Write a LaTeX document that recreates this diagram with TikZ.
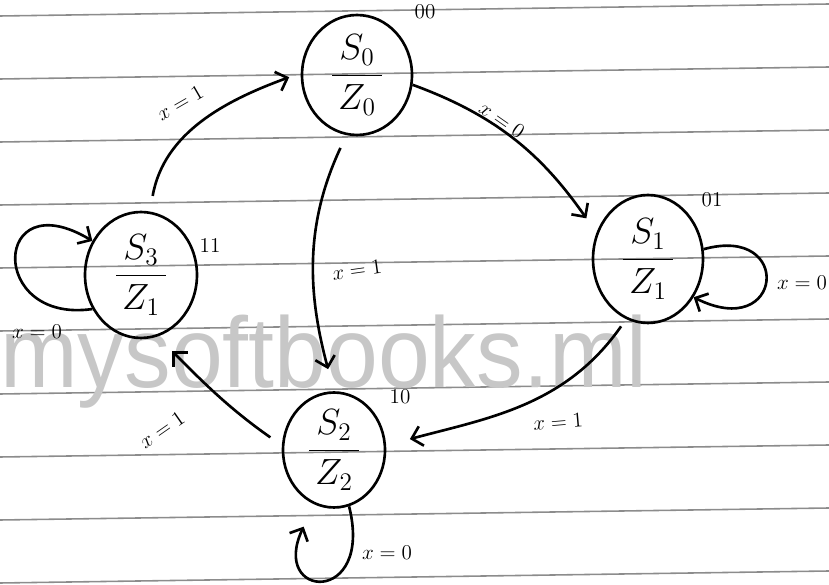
\documentclass[tikz,border=0pt]{standalone}
\usepackage{amsmath}
\usepackage{fontspec}
\newfontfamily\wmfont{Liberation Sans}
\usetikzlibrary{arrows.meta,shapes.geometric}

\begin{document}
\begin{tikzpicture}[
  x=0.02cm, y=0.02cm,
  state/.style={draw, ellipse, line width=1.5pt, inner sep=0pt, font=\huge},
  code/.style={font=\large, inner sep=0pt},
  lbl/.style={font=\large, inner sep=0pt},
  arr/.style={-{Straight Barb[length=2mm, width=4mm]}, line width=1.5pt},
  rule/.style={black!45, line width=0.9pt},
]
\useasboundingbox (0,0) rectangle (829,585);

% ruled paper
\foreach \k in {0,...,9}{ \draw[rule] (0,569-63*\k) -- (829,581-63*\k); }

\node[font=\wmfont\fontsize{57}{60}\selectfont, text=black!22, anchor=base west,
      inner sep=0pt] (wm) at (0,197) {\scalebox{0.93}[1]{mysoftbooks.ml}};

% states
\node[state, minimum width=2.2cm,  minimum height=2.4cm]  (s0) at (357,510) {$\dfrac{\,S_0\,}{\,Z_0\,}$};
\node[state, minimum width=2.2cm,  minimum height=2.56cm] (s1) at (648,326) {$\dfrac{\,S_1\,}{\,Z_1\,}$};
\node[state, minimum width=2.04cm, minimum height=2.3cm]  (s2) at (334,135) {$\dfrac{\,S_2\,}{\,Z_2\,}$};
\node[state, minimum width=2.24cm, minimum height=2.52cm] (s3) at (141,310) {$\dfrac{\,S_3\,}{\,Z_1\,}$};

\node[code] (c0) at (425,573) {00};
\node[code] (c1) at (712,385) {01};
\node[code] (c2) at (400,188) {10};
\node[code] (c3) at (210,340) {11};

% transitions
\draw[arr, shorten <=9pt, shorten >=7pt] (s3.82) to[out=80, in=200] (s0.178);
\draw[arr, shorten >=10pt] (s0.-10) to[out=-20, in=125] (s1.153);
\draw[arr, shorten <=8pt, shorten >=13pt] (s0.-100) to[out=-115, in=105] (s2.90);
\draw[arr, shorten <=5pt, shorten >=14pt] (s1.-110) to[out=-125, in=15] (s2.5);
\draw[arr, shorten <=8pt, shorten >=12pt] (s2.175) to[out=145, in=-45] (s3.-75);

% self loops
\draw[arr] (s3.215) .. controls +(-105,-15) and +(-100,60) .. (s3.145);
\draw[arr] (s1.10) .. controls +(90,25) and +(90,-45) .. (s1.-40);
\draw[arr, shorten >=14pt] (s2.-75) .. controls +(25,-100) and +(-45,-95) .. (s2.-110);

\node[lbl, rotate=30]  (e30) at (180,482) {$x=1$};
\node[lbl, rotate=-35] (e01) at (502,465) {$x=0$};
\node[lbl, rotate=8]   (e02) at (357,315) {$x=1$};
\node[lbl, rotate=5]   (e12) at (558,163) {$x=1$};
\node[lbl, rotate=35]  (e23) at (162,155) {$x=1$};
\node[lbl] (e33) at (37,253)  {$x=0$};
\node[lbl] (e11) at (802,302) {$x=0$};
\node[lbl] (e22) at (387,32)  {$x=0$};
\end{tikzpicture}
\end{document}
